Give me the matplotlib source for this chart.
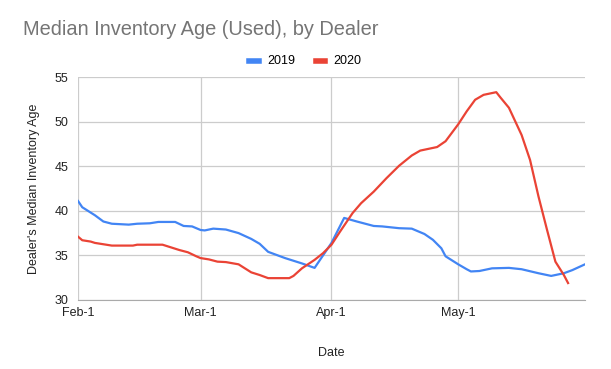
import numpy as np
import pandas as pd
import matplotlib
matplotlib.use("Agg")
import matplotlib.pyplot as plt
import matplotlib.dates as mdates

plt.rcParams['font.family'] = ['Liberation Sans', 'DejaVu Sans']

# days after Feb 1 (chart x axis)
days_2019 = [0, 1, 3, 4, 6, 8, 12, 14, 17, 19, 23, 25, 27, 29, 30, 32, 35, 38, 41, 43,
             45, 49, 53, 56, 60, 63, 66, 70, 72, 76, 79, 82, 84, 86, 87, 90, 92, 93,
             95, 98, 102, 105, 109, 112, 115, 117, 120]
age_2019 = [41.1, 40.4, 39.8, 39.5, 38.8, 38.55, 38.45, 38.55, 38.6, 38.75, 38.75, 38.3,
            38.25, 37.85, 37.8, 38.0, 37.9, 37.5, 36.85, 36.3, 35.4, 34.7, 34.1, 33.6,
            36.4, 39.2, 38.8, 38.3, 38.25, 38.05, 38.0, 37.4, 36.75, 35.8, 34.9, 34.0,
            33.45, 33.2, 33.25, 33.55, 33.6, 33.45, 33.0, 32.7, 33.0, 33.35, 34.0]

days_2020 = [0, 1, 3, 4, 8, 13, 14, 20, 22, 24, 26, 28, 29, 31, 33, 35, 38, 39, 41, 43,
             45, 50, 51, 53, 56, 58, 60, 62, 65, 67, 70, 73, 76, 79, 81, 85, 87, 90, 92,
             94, 96, 99, 100, 102, 105, 107, 109, 111, 113, 115, 116]
age_2020 = [37.1, 36.7, 36.55, 36.4, 36.1, 36.1, 36.2, 36.2, 35.9, 35.6, 35.35, 34.9,
            34.7, 34.55, 34.3, 34.25, 34.0, 33.7, 33.1, 32.8, 32.45, 32.45, 32.7, 33.55,
            34.5, 35.25, 36.2, 37.65, 39.75, 40.85, 42.15, 43.65, 45.05, 46.2, 46.75,
            47.15, 47.8, 49.7, 51.15, 52.45, 53.0, 53.3, 52.7, 51.55, 48.5, 45.7, 41.6,
            37.9, 34.3, 32.8, 31.9]

start = pd.Timestamp("2020-02-01")
d19 = start + pd.to_timedelta(days_2019, unit="D")
d20 = start + pd.to_timedelta(days_2020, unit="D")

fig = plt.figure(figsize=(6.11, 3.69), dpi=100)
ax = fig.add_axes([0.1277, 0.187, 0.8297, 0.6043])

ax.plot(d19, age_2019, color='#4285F4', lw=1.6, label='2019', solid_joinstyle='round')
ax.plot(d20, age_2020, color='#EA4335', lw=1.6, label='2020', solid_joinstyle='round')

ax.set_xlim(start, pd.Timestamp("2020-05-31"))
ax.set_ylim(30, 55)
ax.set_yticks([30, 35, 40, 45, 50, 55])
ax.xaxis.set_major_locator(mdates.MonthLocator())
ax.xaxis.set_major_formatter(mdates.DateFormatter('%b-1'))

ax.grid(True, color='#cccccc', lw=0.9)
ax.set_axisbelow(True)
for s in ['top', 'right', 'left']:
    ax.spines[s].set_visible(False)
ax.spines['bottom'].set_color('#aaaaaa')
ax.tick_params(length=0, labelsize=9, colors='#222222', pad=5)
ax.tick_params(axis='y', pad=7)

ax.set_xlabel('Date', fontsize=9, color='#222222', labelpad=20)
ax.set_ylabel("Dealer's Median Inventory Age", fontsize=9, color='#222222', labelpad=10)

fig.text(0.037, 0.92, 'Median Inventory Age (Used), by Dealer', fontsize=14.4,
         color='#757575', va='center', ha='left')

fig.legend(loc='center', bbox_to_anchor=(0.5, 1 - 61.5 / 369), ncol=2, frameon=False,
           fontsize=9, handlelength=0.75, handleheight=0.4, columnspacing=1.6,
           handletextpad=0.7, borderpad=0)
leg = fig.legends[0]
for h in leg.get_lines():
    h.set_linewidth(4)

fig.savefig('out.png', dpi=100)
